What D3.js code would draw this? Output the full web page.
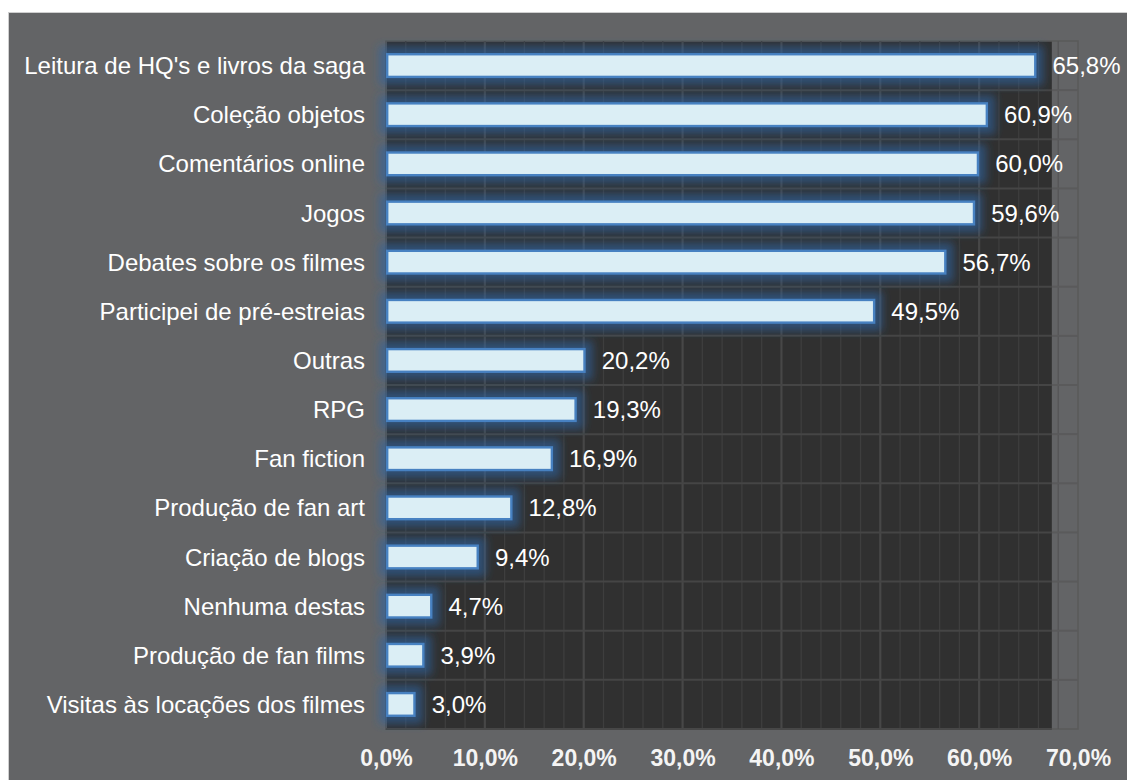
<!DOCTYPE html>
<html>
<head>
<meta charset="utf-8">
<script src="https://cdn.jsdelivr.net/npm/d3@7"></script>
<style>
  html, body { margin: 0; padding: 0; background: #ffffff; }
  svg { display: block; }
  text { font-family: "Liberation Sans", Arial, sans-serif; }
</style>
</head>
<body>
<svg id="chart" width="1127" height="780"></svg>
<script>
// Activities and share of respondents (%)
const categories = [
  "Leitura de HQ's e livros da saga",
  "Coleção objetos",
  "Comentários online",
  "Jogos",
  "Debates sobre os filmes",
  "Participei de pré-estreias",
  "Outras",
  "RPG",
  "Fan fiction",
  "Produção de fan art",
  "Criação de blogs",
  "Nenhuma destas",
  "Produção de fan films",
  "Visitas às locações dos filmes"
];
const values = [65.8, 60.9, 60.0, 59.6, 56.7, 49.5, 20.2, 19.3, 16.9, 12.8, 9.4, 4.7, 3.9, 3.0];
const xTicks = [0, 10, 20, 30, 40, 50, 60, 70];
const minorTicks = d3.range(0, 70.01, 2);

const W = 1127, H = 780;
const plot = { left: 386, right: 1078, top: 41, bottom: 729 };
const fmt = v => d3.format(".1f")(v).replace(".", ",") + "%";

const svg = d3.select("#chart");

// Panel background
svg.append("rect")
  .attr("x", 8.5).attr("y", 12.5)
  .attr("width", W).attr("height", H)
  .attr("fill", "#636466")
  .attr("stroke", "#cfcfcf").attr("stroke-width", 1);

const x = d3.scaleLinear().domain([0, 70]).range([plot.left, plot.right]);
const y = d3.scaleBand().domain(categories).range([plot.top, plot.bottom]).paddingInner(0.49).paddingOuter(0.245);
const band = d3.scaleBand().domain(categories).range([plot.top, plot.bottom]);

// Glow filter around the bars
const defs = svg.append("defs");
const glow = defs.append("filter").attr("id", "glow")
  .attr("x", "-50%").attr("y", "-150%").attr("width", "200%").attr("height", "400%");
glow.append("feMorphology").attr("in", "SourceAlpha").attr("operator", "dilate").attr("radius", 7).attr("result", "d");
glow.append("feGaussianBlur").attr("in", "d").attr("stdDeviation", 4.5).attr("result", "b");
glow.append("feFlood").attr("flood-color", "#2e64a2").attr("flood-opacity", 0.6).attr("result", "c");
glow.append("feComposite").attr("in", "c").attr("in2", "b").attr("operator", "in");

// Dark wall of the plot area
const wallEnd = x(67.35);
svg.append("rect")
  .attr("x", plot.left).attr("y", plot.top)
  .attr("width", wallEnd - plot.left).attr("height", plot.bottom - plot.top)
  .attr("fill", "#303030");

// Outline of the full plot box
svg.append("rect")
  .attr("x", plot.left).attr("y", plot.top)
  .attr("width", plot.right - plot.left).attr("height", plot.bottom - plot.top)
  .attr("fill", "none").attr("stroke", "#5a5a5a").attr("stroke-width", 1.5);

// Minor vertical grid lines
svg.append("g").selectAll("line").data(minorTicks.filter(d => d % 10 !== 0)).join("line")
  .attr("x1", d => x(d)).attr("x2", d => x(d))
  .attr("y1", plot.top).attr("y2", plot.bottom)
  .attr("stroke", d => x(d) < wallEnd ? "#3e3e3e" : "#555556")
  .attr("stroke-width", 1.3);

// Major vertical grid lines
svg.append("g").selectAll("line").data(xTicks.slice(1, -1)).join("line")
  .attr("x1", d => x(d)).attr("x2", d => x(d))
  .attr("y1", plot.top).attr("y2", plot.bottom)
  .attr("stroke", "#474747").attr("stroke-width", 2.2);

// Horizontal lines between categories
const bounds = categories.slice(1).map(c => band(c));
const hg = svg.append("g");
hg.selectAll("line.d").data(bounds).join("line").attr("class", "d")
  .attr("x1", plot.left).attr("x2", wallEnd)
  .attr("y1", d => d).attr("y2", d => d)
  .attr("stroke", "#454545").attr("stroke-width", 2);
hg.selectAll("line.l").data(bounds).join("line").attr("class", "l")
  .attr("x1", wallEnd).attr("x2", plot.right)
  .attr("y1", d => d).attr("y2", d => d)
  .attr("stroke", "#5a5a5b").attr("stroke-width", 2);

// Left and bottom edges
svg.append("line").attr("x1", plot.left).attr("x2", plot.left).attr("y1", plot.top).attr("y2", plot.bottom + 1)
  .attr("stroke", "#555555").attr("stroke-width", 2);
svg.append("line").attr("x1", plot.left).attr("x2", wallEnd).attr("y1", plot.bottom).attr("y2", plot.bottom)
  .attr("stroke", "#474747").attr("stroke-width", 2);

// Glow layer
svg.append("g").selectAll("rect").data(values).join("rect")
  .attr("x", x(0)).attr("y", (d, i) => y(categories[i]))
  .attr("width", d => x(d) - x(0)).attr("height", y.bandwidth())
  .attr("fill", "#000").attr("filter", "url(#glow)");

// Bars
svg.append("g").selectAll("rect").data(values).join("rect")
  .attr("x", x(0) + 1.2).attr("y", (d, i) => y(categories[i]) + 1.2)
  .attr("width", d => x(d) - x(0) - 2.4).attr("height", y.bandwidth() - 2.4)
  .attr("fill", "#dbeef5").attr("stroke", "#4781c1").attr("stroke-width", 2.4);

// Value labels
svg.append("g").selectAll("text").data(values).join("text")
  .attr("x", d => x(d) + 16)
  .attr("y", (d, i) => band(categories[i]) + band.bandwidth() / 2 + 8.6)
  .attr("fill", "#ffffff").attr("font-size", 24)
  .text(d => fmt(d));

// Category labels
svg.append("g").selectAll("text").data(categories).join("text")
  .attr("x", 365)
  .attr("y", d => band(d) + band.bandwidth() / 2 + 8.6)
  .attr("text-anchor", "end")
  .attr("fill", "#ffffff").attr("font-size", 24)
  .text(d => d);

// X axis tick labels
const xAxis = d3.axisBottom(x).tickValues(xTicks).tickFormat(d => d3.format(".1f")(d).replace(".", ",") + "%").tickSize(0).tickPadding(0);
const ax = svg.append("g").attr("transform", `translate(0, 766)`).call(xAxis);
ax.select(".domain").remove();
ax.selectAll("text")
  .attr("dy", 0).attr("y", 0)
  .attr("fill", "#f4f4f4")
  .attr("font-size", 23)
  .attr("font-weight", "bold")
  .attr("font-family", "'Liberation Sans', Arial, sans-serif");
</script>
</body>
</html>
